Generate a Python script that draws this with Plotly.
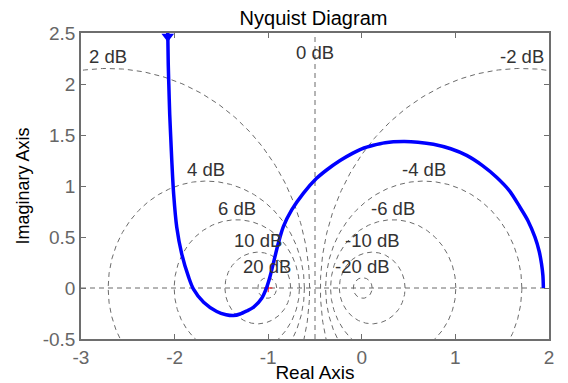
import numpy as np
import plotly.graph_objects as go

# Nyquist curve (real, imaginary)
nyq_re = [-2.073, -2.068, -2.062, -2.052, -2.040, -2.030, -2.010, -1.977, -1.924, -1.850,
          -1.800, -1.690, -1.550, -1.450, -1.372, -1.301, -1.230, -1.159, -1.069, -1.016,
          -0.981, -0.945, -0.892, -0.838, -0.749, -0.625, -0.483, -0.376, -0.232, -0.100,
          0.000, 0.124, 0.250, 0.444, 0.600, 0.765, 0.950, 1.120, 1.290, 1.440,
          1.580, 1.690, 1.775, 1.850, 1.895, 1.920, 1.935, 1.940]
nyq_im = [2.500, 2.200, 2.000, 1.700, 1.450, 1.250, 0.920, 0.596, 0.335, 0.106,
          -0.008, -0.140, -0.230, -0.262, -0.270, -0.255, -0.225, -0.190, -0.100, 0.007,
          0.110, 0.242, 0.438, 0.601, 0.765, 0.928, 1.075, 1.157, 1.250, 1.320,
          1.365, 1.400, 1.425, 1.436, 1.430, 1.410, 1.365, 1.300, 1.200, 1.086,
          0.950, 0.792, 0.660, 0.498, 0.360, 0.237, 0.120, 0.000]

# M-circle grid levels (closed-loop gain, dB)
m_db = [2, 4, 6, 10, 20, -2, -4, -6, -10, -20]
m_labels = ["2 dB", "4 dB", "6 dB", "10 dB", "20 dB", "-2 dB", "-4 dB", "-6 dB", "-10 dB", "-20 dB"]

x_ticks = [-3, -2, -1, 0, 1, 2]
y_ticks = [-0.5, 0, 0.5, 1, 1.5, 2, 2.5]

GRID = "#6b6b6b"
AX = "#6e6e6e"
FONT = "Liberation Sans, Arial, sans-serif"
LBL = 18.5

fig = go.Figure()

th = np.linspace(0, 2 * np.pi, 500)
annotations = []
for db, lab in zip(m_db, m_labels):
    M = 10 ** (db / 20)
    c = -M * M / (M * M - 1)
    r = abs(M / (M * M - 1))
    fig.add_trace(go.Scatter(x=c + r * np.cos(th), y=r * np.sin(th), mode="lines",
                             line=dict(color=GRID, width=1, dash="5px,4px"),
                             hoverinfo="skip", showlegend=False))
    annotations.append(dict(x=c, y=r, text=lab, showarrow=False, xanchor="center",
                            yanchor="bottom", yshift=-1,
                            font=dict(family=FONT, size=LBL, color="#333333")))

# 0 dB line and real axis
fig.add_trace(go.Scatter(x=[-0.5, -0.5], y=[-0.5, 2.5], mode="lines",
                         line=dict(color=GRID, width=1, dash="5px,4px"),
                         hoverinfo="skip", showlegend=False))
fig.add_trace(go.Scatter(x=[-3, 2], y=[0, 0], mode="lines",
                         line=dict(color=GRID, width=1, dash="5px,4px"),
                         hoverinfo="skip", showlegend=False))
annotations.append(dict(x=-0.5, y=2.2, text="0 dB", showarrow=False, xanchor="center",
                        yanchor="bottom", yshift=-1,
                        font=dict(family=FONT, size=LBL, color="#333333")))

# critical point
fig.add_trace(go.Scatter(x=[-1], y=[0], mode="markers",
                         marker=dict(symbol="cross-thin", size=6, line=dict(color="red", width=1)),
                         showlegend=False))

# Nyquist curve
fig.add_trace(go.Scatter(x=nyq_re, y=nyq_im, mode="lines",
                         line=dict(color="#0000ff", width=3.5, shape="spline", smoothing=0.8),
                         showlegend=False))
fig.add_trace(go.Scatter(x=[nyq_re[0]], y=[2.465], mode="markers",
                         marker=dict(symbol="triangle-down", size=11, color="#0000ff"),
                         showlegend=False))

axis_common = dict(showline=True, linecolor=AX, linewidth=1.5, mirror="ticks",
                   ticks="inside", ticklen=5, tickcolor=AX, showgrid=False, zeroline=False,
                   automargin=False,
                   tickfont=dict(family=FONT, size=19, color="#666666"))

fig.update_layout(
    width=568, height=383,
    margin=dict(l=81, r=19, t=33, b=44),
    plot_bgcolor="white", paper_bgcolor="white",
    title=dict(text="Nyquist Diagram", x=0.552, xanchor="center", y=0.953, yanchor="middle",
               font=dict(family=FONT, size=20, color="black")),
    xaxis=dict(range=[-3, 2], tickvals=x_ticks, ticktext=[str(v) for v in x_ticks],
               title=dict(text="Real Axis", standoff=5, font=dict(family=FONT, size=19, color="black")),
               **axis_common),
    yaxis=dict(range=[-0.5, 2.5], tickvals=y_ticks, ticktext=[str(v) for v in y_ticks],
               title=dict(text="Imaginary Axis", standoff=8, font=dict(family=FONT, size=18, color="black")),
               **axis_common),
    annotations=annotations,
    showlegend=False,
)

fig.write_html("out.html")
